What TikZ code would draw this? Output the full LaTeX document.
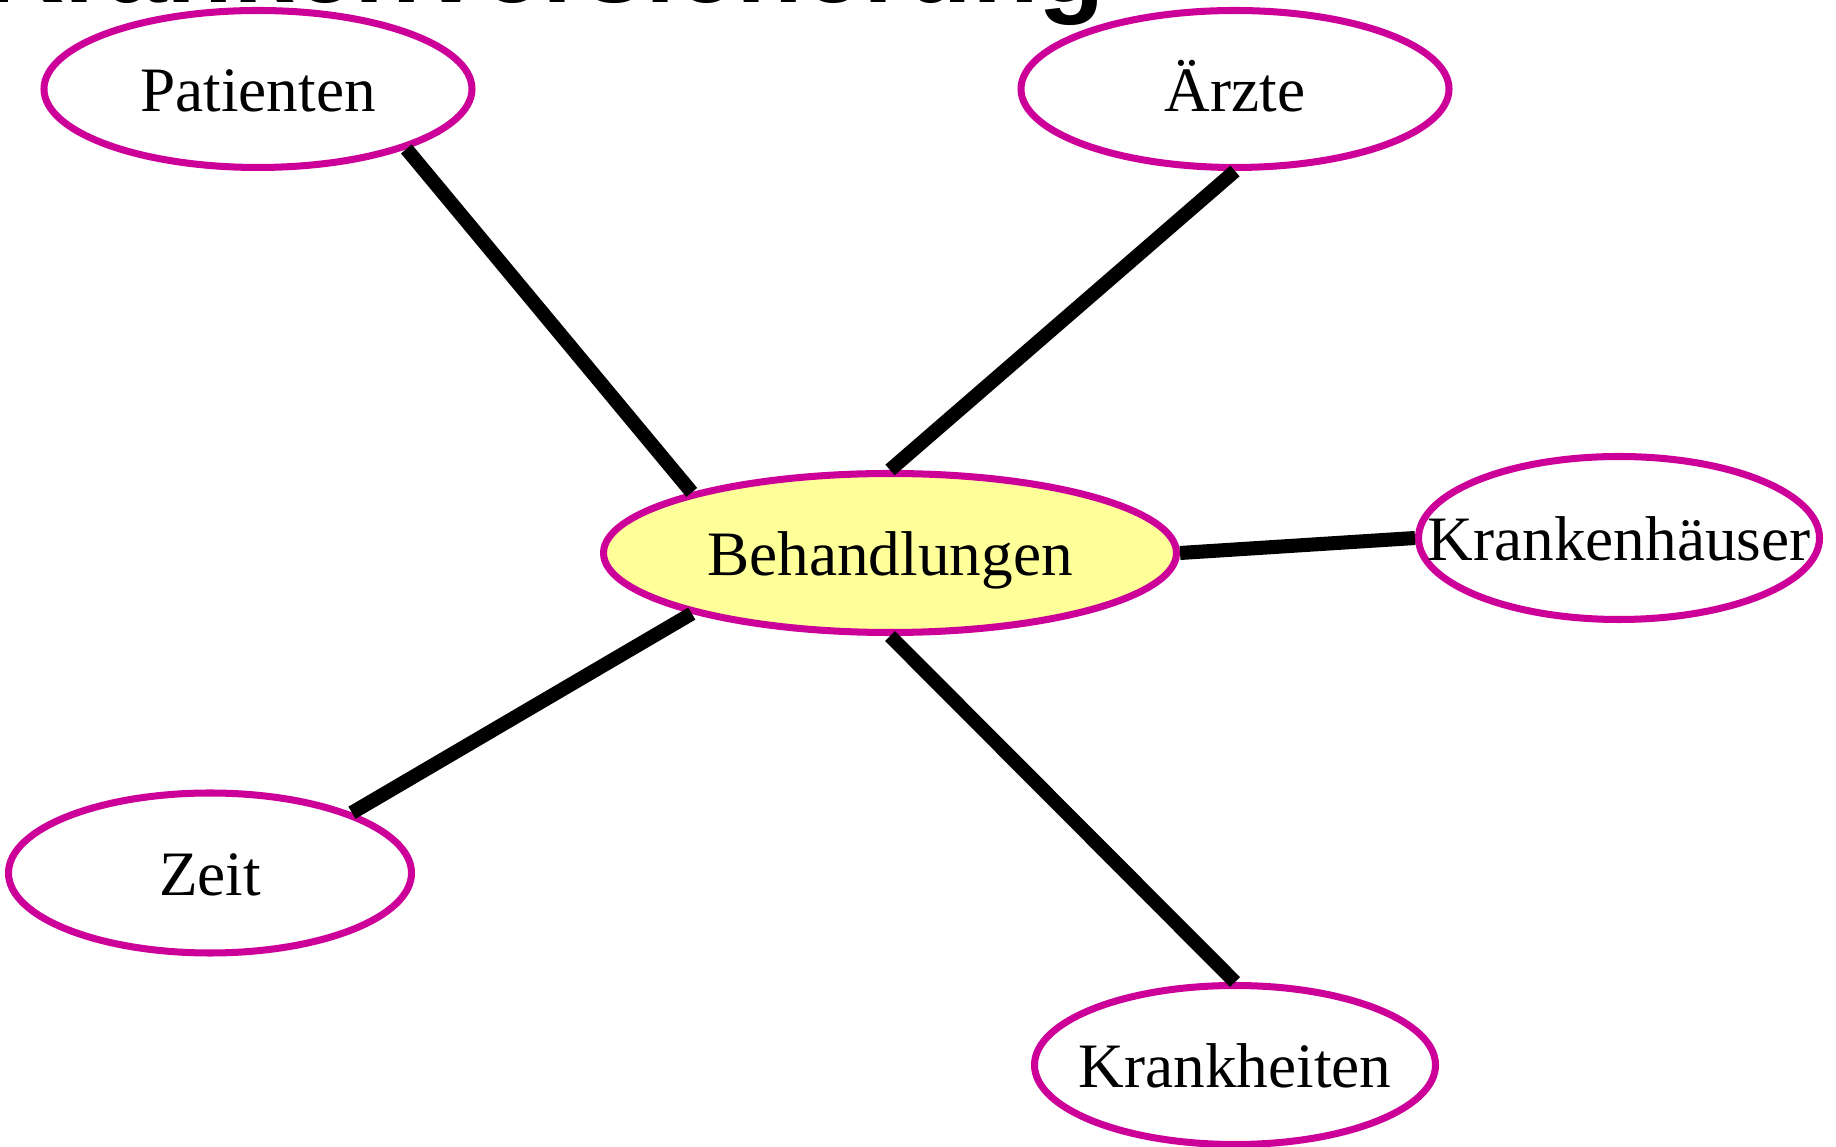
\documentclass[tikz,border=0pt]{standalone}
\usepackage{fontspec}
\setmainfont{Liberation Serif}
\newfontfamily\titlefont{Liberation Sans}
\usetikzlibrary{shapes.geometric}
\usetikzlibrary{positioning}
\definecolor{rimpink}{HTML}{CC0099}
\definecolor{hubyellow}{HTML}{FFFF99}
\tikzset{
    topic/.style={draw=rimpink, line width=2pt, ellipse, inner xsep=-6mm, inner ysep=0pt,
        minimum width=4.03cm, minimum height=1.6cm, text height=13pt, text depth=0pt,
        font=\fontsize{18}{20}\selectfont},
    link/.style={line width=4pt}
}

\begin{document}
\begin{tikzpicture}
            \useasboundingbox (0,0) rectangle (18.36,11.46);
            % Title, mostly above the page
            \node[font=\titlefont\bfseries\fontsize{31}{36}\selectfont, anchor=base east] (titel) at (11.18,11.43) {Krankenversicherung};

            % Hub and topics
            \node[topic, fill=hubyellow, minimum width=5.73cm, minimum height=1.59cm] (behandlungen) at (8.90,5.93) {Behandlungen};
            \node[topic, minimum width=4.28cm, minimum height=1.57cm] (patienten) at (2.58,10.57) {Patienten};
            \node[topic, minimum width=4.28cm, minimum height=1.57cm] (aerzte) at (12.35,10.57) {Ärzte};
            \node[topic, minimum width=4.01cm, minimum height=1.63cm] (krankenhaeuser) at (16.19,6.08) {Krankenhäuser};
            \node[topic] (zeit) at (2.10,2.73) {Zeit};
            \node[topic, minimum width=4.01cm, minimum height=1.59cm] (krankheiten) at (12.35,0.81) {Krankheiten};

            \draw[link] (patienten.-22) -- (behandlungen.163);
            \draw[link] (aerzte.south) -- (behandlungen.north);
            \draw[link] (behandlungen.east) -- (krankenhaeuser.west);
            \draw[link] (zeit.23) -- (behandlungen.197);
            \draw[link] (behandlungen.south) -- (krankheiten.north);
        \end{tikzpicture}
\end{document}
